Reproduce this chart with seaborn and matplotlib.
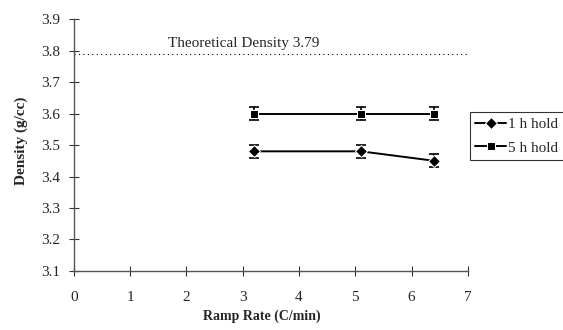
import matplotlib
matplotlib.use("Agg")
import matplotlib.pyplot as plt
import seaborn as sns
import pandas as pd

ramp = [3.2, 5.1, 6.4]
dens_1h = [3.48, 3.48, 3.45]
dens_5h = [3.60, 3.60, 3.60]
err_1h = [0.02, 0.02, 0.02]
err_5h = [0.02, 0.02, 0.02]
theoretical = 3.79

sns.set_style("white")
plt.rcParams['font.family'] = ['Liberation Serif', 'DejaVu Serif']

df = pd.DataFrame({
    "Ramp": ramp + ramp,
    "Density": dens_1h + dens_5h,
    "Series": ["1 h hold"] * 3 + ["5 h hold"] * 3,
})

fig = plt.figure(figsize=(5.63, 3.30), dpi=100)
ax = fig.add_axes([0.131, 0.179, 0.70, 0.763])

sns.lineplot(data=df, x="Ramp", y="Density", hue="Series", style="Series",
             markers={"1 h hold": "D", "5 h hold": "s"}, dashes=False,
             palette={"1 h hold": "black", "5 h hold": "black"},
             markersize=6, linewidth=1.4, ax=ax, legend=True, zorder=3)
ax.errorbar(ramp, dens_1h, yerr=err_1h, fmt="none", ecolor="black", capsize=3.5, elinewidth=1.2, capthick=1.2)
ax.errorbar(ramp, dens_5h, yerr=err_5h, fmt="none", ecolor="black", capsize=3.5, elinewidth=1.2, capthick=1.2)

ax.axhline(theoretical, color="black", linestyle=(0, (1, 3)), linewidth=0.8)
ax.text(3.02, theoretical + 0.012, "Theoretical Density 3.79", ha="center", va="bottom", fontsize=11)

ax.set_xlim(0, 7)
ax.set_ylim(3.1, 3.9)
ax.set_xticks(range(0, 8))
ax.set_yticks([3.1, 3.2, 3.3, 3.4, 3.5, 3.6, 3.7, 3.8, 3.9])
ax.set_yticklabels(["3.1", "3.2", "3.3", "3.4", "3.5", "3.6", "3.7", "3.8", "3.9"])
ax.tick_params(direction="inout", length=7, width=0.8, labelsize=11, color="#333333",
               left=True, bottom=True)
ax.tick_params(axis="x", pad=11)
ax.tick_params(axis="y", pad=6)
for s in ["top", "right"]:
    ax.spines[s].set_visible(False)
for s in ["left", "bottom"]:
    ax.spines[s].set_color("#555555")
    ax.spines[s].set_linewidth(1.0)

ax.set_xlabel("Ramp Rate (C/min)", fontsize=10, fontweight="bold")
ax.set_ylabel("Density (g/cc)", fontsize=11, fontweight="bold")
ax.xaxis.set_label_coords(0.478, -0.153)
ax.yaxis.set_label_coords(-0.117, 0.515)

leg = ax.legend(loc="upper left", bbox_to_anchor=(470 / 563, 1 - 112 / 330),
                bbox_transform=fig.transFigure, borderaxespad=0,
                frameon=True, fancybox=False,
                edgecolor="black", fontsize=11, handlelength=2.0, borderpad=0.35,
                labelspacing=0.65, handletextpad=0.15)
leg.get_frame().set_linewidth(0.8)
leg.set_title(None)

fig.savefig("out.png", dpi=100)
